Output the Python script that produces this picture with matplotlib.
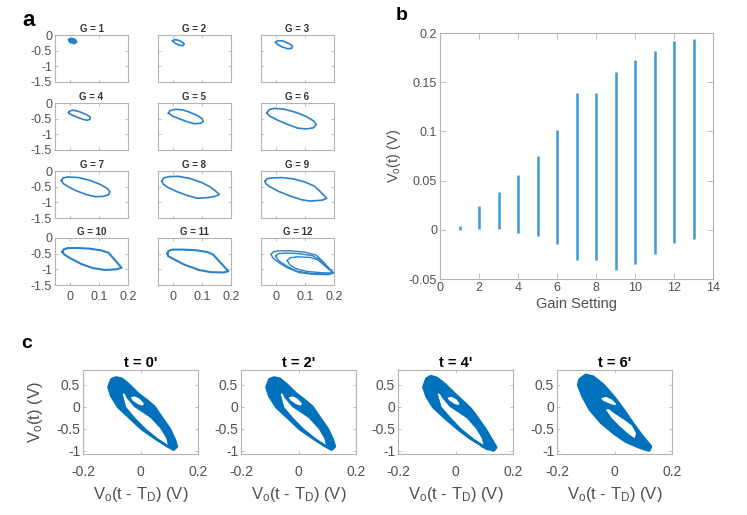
import matplotlib
matplotlib.use('Agg')
import matplotlib.pyplot as plt

plt.rcParams['font.family'] = ['Liberation Sans', 'DejaVu Sans']
plt.rcParams['mathtext.fontset'] = 'custom'
plt.rcParams['mathtext.rm'] = 'Liberation Sans'
plt.rcParams['mathtext.it'] = 'Liberation Sans:italic'
plt.rcParams['mathtext.default'] = 'regular'

# ---------------- panel a : loops for gain settings ----------------
gain_titles = ['G = 1', 'G = 2', 'G = 3', 'G = 4', 'G = 5', 'G = 6',
               'G = 7', 'G = 8', 'G = 9', 'G = 10', 'G = 11', 'G = 12']
a_xticks = [0, 0.1, 0.2]
a_xticklabels = ['0', '0.1', '0.2']
a_yticks = [0, -0.5, -1, -1.5]
a_yticklabels = ['0', '-0.5', '-1', '-1.5']

g1_x = [0.0, 0.008, 0.018, 0.022, 0.015, 0.003, 0.0]
g1_y = [-0.16, -0.13, -0.16, -0.22, -0.25, -0.22, -0.16]
g2_x = [0.0, 0.006, 0.018, 0.032, 0.04, 0.036, 0.024, 0.01, 0.0]
g2_y = [-0.19, -0.15, -0.16, -0.22, -0.29, -0.34, -0.33, -0.27, -0.19]
g3_x = [0.0, 0.008, 0.025, 0.045, 0.058, 0.056, 0.042, 0.022, 0.006, 0.0]
g3_y = [-0.23, -0.18, -0.19, -0.27, -0.35, -0.42, -0.44, -0.38, -0.3, -0.23]
g4_x = [-0.003, 0.002, 0.012, 0.028, 0.045, 0.062, 0.071, 0.07, 0.06, 0.045, 0.028, 0.012, 0.0, -0.003]
g4_y = [-0.3, -0.25, -0.23, -0.26, -0.32, -0.39, -0.46, -0.52, -0.55, -0.52, -0.46, -0.4, -0.35, -0.3]
g5_x = [-0.014, -0.008, 0.01, 0.035, 0.06, 0.085, 0.101, 0.105, 0.095, 0.075, 0.05, 0.025, 0.0, -0.014]
g5_y = [-0.32, -0.24, -0.2, -0.22, -0.3, -0.4, -0.5, -0.59, -0.65, -0.66, -0.6, -0.51, -0.42, -0.32]
g6_x = [-0.03, -0.022, -0.005, 0.03, 0.07, 0.105, 0.13, 0.139, 0.13, 0.105, 0.075, 0.04, 0.005, -0.02, -0.03]
g6_y = [-0.32, -0.21, -0.17, -0.2, -0.3, -0.43, -0.57, -0.69, -0.79, -0.83, -0.8, -0.68, -0.54, -0.42, -0.32]
g7_x = [-0.028, -0.022, -0.005, 0.03, 0.07, 0.105, 0.128, 0.138, 0.133, 0.115, 0.09, 0.06, 0.025, -0.005, -0.022, -0.028]
g7_y = [-0.3, -0.22, -0.19, -0.21, -0.3, -0.43, -0.55, -0.66, -0.76, -0.81, -0.82, -0.76, -0.64, -0.5, -0.4, -0.3]
g8_x = [-0.037, -0.03, -0.012, 0.02, 0.06, 0.1, 0.125, 0.145, 0.16, 0.145, 0.12, 0.085, 0.05, 0.015, -0.015, -0.032, -0.037]
g8_y = [-0.32, -0.22, -0.18, -0.17, -0.24, -0.37, -0.49, -0.62, -0.75, -0.81, -0.85, -0.87, -0.78, -0.66, -0.53, -0.42, -0.32]
g9_x = [-0.036, -0.03, -0.012, 0.02, 0.06, 0.1, 0.132, 0.15, 0.175, 0.16, 0.12, 0.09, 0.05, 0.01, -0.02, -0.034, -0.036]
g9_y = [-0.33, -0.25, -0.22, -0.21, -0.25, -0.35, -0.48, -0.63, -0.87, -0.93, -0.96, -0.92, -0.8, -0.65, -0.5, -0.4, -0.33]
g10_x = [-0.025, -0.02, -0.005, 0.03, 0.07, 0.11, 0.133, 0.155, 0.178, 0.16, 0.12, 0.08, 0.04, 0.005, -0.018, -0.025]
g10_y = [-0.44, -0.36, -0.32, -0.32, -0.34, -0.4, -0.47, -0.7, -0.95, -1.0, -1.02, -0.96, -0.83, -0.66, -0.53, -0.44]
g11_x = [-0.018, -0.014, 0.0, 0.035, 0.08, 0.12, 0.139, 0.165, 0.191, 0.175, 0.13, 0.09, 0.04, 0.005, -0.015, -0.018]
g11_y = [-0.5, -0.41, -0.37, -0.37, -0.39, -0.45, -0.53, -0.8, -1.06, -1.1, -1.09, -1.02, -0.85, -0.68, -0.58, -0.5]
g12a_x = [-0.015, -0.008, 0.01, 0.05, 0.1, 0.14, 0.165, 0.198, 0.18, 0.13, 0.08, 0.04, 0.01, -0.01, -0.015]
g12a_y = [-0.52, -0.44, -0.41, -0.41, -0.45, -0.55, -0.78, -1.12, -1.17, -1.16, -1.1, -0.95, -0.78, -0.63, -0.52]
g12b_x = [0.0, 0.01, 0.035, 0.08, 0.125, 0.15, 0.17, 0.2, 0.17, 0.12, 0.07, 0.035, 0.01, 0.0]
g12b_y = [-0.58, -0.5, -0.48, -0.5, -0.56, -0.68, -0.86, -1.12, -1.15, -1.13, -1.05, -0.88, -0.72, -0.58]
g12c_x = [0.04, 0.05, 0.075, 0.12, 0.145, 0.17, 0.198, 0.16, 0.11, 0.07, 0.048, 0.04]
g12c_y = [-0.72, -0.63, -0.6, -0.62, -0.7, -0.9, -1.12, -1.11, -1.07, -0.98, -0.85, -0.72]

# ---------------- panel b : output range vs gain ----------------
gain_setting = [1, 2, 3, 4, 5, 6, 7, 8, 9, 10, 11, 12, 13]
vo_max = [0.004, 0.024, 0.038, 0.056, 0.0755, 0.101, 0.139, 0.139, 0.1605, 0.173, 0.182, 0.192, 0.194]
vo_min = [0.0, 0.001, 0.001, -0.003, -0.006, -0.0146, -0.031, -0.031, -0.041, -0.0344, -0.025, -0.013, -0.009]
b_xticks = [0, 2, 4, 6, 8, 10, 12, 14]
b_yticks = [-0.05, 0, 0.05, 0.1, 0.15, 0.2]
b_yticklabels = ['-0.05', '0', '0.05', '0.1', '0.15', '0.2']

# ---------------- panel c : attractors over time ----------------
c_titles = ["t = 0'", "t = 2'", "t = 4'", "t = 6'"]
c_xticks = [-0.2, 0, 0.2]
c_xticklabels = ['-0.2', '0', '0.2']
c_yticks = [-1, -0.5, 0, 0.5]
c_yticklabels = ['-1', '-0.5', '0', '0.5']

c1_outer_x = [-0.1, -0.085, -0.065, -0.041, -0.01, 0.02, 0.047, 0.07, 0.1, 0.118, 0.125, 0.115, 0.09, 0.05, 0.006, -0.035, -0.076, -0.1, -0.11]
c1_outer_y = [0.62, 0.66, 0.63, 0.5, 0.3, 0.15, 0.0, -0.22, -0.5, -0.75, -0.9, -0.96, -0.87, -0.7, -0.5, -0.25, 0.0, 0.25, 0.45]
c1_gap_x = [-0.062, -0.05, -0.018, 0.02, 0.062, 0.095, 0.09, 0.07, 0.035, -0.022, -0.048, -0.055]
c1_gap_y = [0.3, 0.0, -0.25, -0.5, -0.72, -0.86, -0.72, -0.5, -0.25, 0.0, 0.2, 0.3]
c1_hole_x = [-0.034, -0.02, -0.004, 0.012, 0.008, -0.008, -0.028]
c1_hole_y = [0.22, 0.24, 0.19, 0.08, 0.03, 0.06, 0.15]

c3_outer_x = [-0.1, -0.085, -0.065, -0.036, -0.005, 0.025, 0.052, 0.075, 0.104, 0.125, 0.14, 0.132, 0.095, 0.05, 0.01, -0.035, -0.076, -0.1, -0.11]
c3_outer_y = [0.64, 0.69, 0.65, 0.5, 0.3, 0.12, -0.05, -0.25, -0.52, -0.75, -0.92, -0.98, -0.88, -0.7, -0.5, -0.25, 0.0, 0.25, 0.45]
c3_gap_x = [-0.062, -0.048, -0.015, 0.022, 0.064, 0.097, 0.092, 0.072, 0.038, -0.02, -0.046, -0.055]
c3_gap_y = [0.3, 0.0, -0.25, -0.5, -0.72, -0.86, -0.72, -0.5, -0.25, 0.0, 0.2, 0.3]
c3_hole_x = [-0.028, -0.014, 0.002, 0.014, 0.01, -0.004, -0.022]
c3_hole_y = [0.21, 0.23, 0.18, 0.08, 0.04, 0.07, 0.15]
c3_tip_x = [0.09, 0.12, 0.14, 0.135, 0.11, 0.09]
c3_tip_y = [-0.88, -0.85, -0.9, -0.98, -0.97, -0.9]

c4_outer_x = [-0.12, -0.1, -0.075, -0.04, 0.0, 0.034, 0.06, 0.09, 0.125, 0.12, 0.09, 0.04, 0.0, -0.046, -0.085, -0.11, -0.125]
c4_outer_y = [0.62, 0.72, 0.68, 0.5, 0.2, -0.1, -0.35, -0.62, -0.9, -0.98, -0.92, -0.78, -0.6, -0.35, -0.05, 0.25, 0.5]
c4_gap_x = [-0.03, -0.01, 0.02, 0.05, 0.07, 0.075, 0.06, 0.035, 0.0, -0.02]
c4_gap_y = [-0.06, -0.25, -0.45, -0.62, -0.71, -0.6, -0.42, -0.3, -0.15, -0.05]
c4_hole_x = [-0.046, -0.03, -0.01, 0.006, 0.002, -0.015, -0.04]
c4_hole_y = [0.2, 0.23, 0.17, 0.07, 0.04, 0.07, 0.14]

# ---------------- figure ----------------
W, H = 747, 515
fig = plt.figure(figsize=(W / 100, H / 100), dpi=100)

SPINE = '#b4b4b4'
TXT = '#505050'
LOOP = '#2b82c9'
CBLUE = '#0072BD'


def add_px_axes(left, top, width, height):
    return fig.add_axes([left / W, 1 - (top + height) / H, width / W, height / H])


def style_axes(ax, fs):
    for s in ax.spines.values():
        s.set_color(SPINE)
        s.set_linewidth(0.8)
    ax.tick_params(direction='in', length=2.5, width=0.6, color=SPINE,
                   labelcolor=TXT, labelsize=fs, top=True, right=True, pad=2)


# panel a
loops = [[(g1_x, g1_y)], [(g2_x, g2_y)], [(g3_x, g3_y)],
         [(g4_x, g4_y)], [(g5_x, g5_y)], [(g6_x, g6_y)],
         [(g7_x, g7_y)], [(g8_x, g8_y)], [(g9_x, g9_y)],
         [(g10_x, g10_y)], [(g11_x, g11_y)],
         [(g12a_x, g12a_y), (g12b_x, g12b_y), (g12c_x, g12c_y)]]
a_lefts = [55, 158, 261]
a_tops = [35, 103, 171, 238]
for i, title in enumerate(gain_titles):
    r, c = divmod(i, 3)
    ax = add_px_axes(a_lefts[c], a_tops[r], 73, 47)
    for lx, ly in loops[i]:
        lw = 2.2 if i == 0 else (1.5 if i >= 9 else 1.2)
        if i == 11:
            lw = 1.0
        ax.plot(lx, ly, color=LOOP, lw=lw, solid_joinstyle='round')
    ax.set_xlim(-0.05, 0.2)
    ax.set_ylim(-1.5, 0)
    ax.set_xticks(a_xticks)
    ax.set_xticklabels(a_xticklabels)
    ax.set_yticks(a_yticks)
    ax.set_yticklabels(a_yticklabels)
    style_axes(ax, 9)
    ax.tick_params(labelleft=(c == 0), labelbottom=(r == 3))
    ax.tick_params(axis='x', pad=4)
    ax.set_title(title, fontsize=7, fontweight='bold', color='#333333', pad=2)

# panel b
axb = add_px_axes(440, 33, 273, 246)
axb.vlines(gain_setting, vo_min, vo_max, color='#3d9ad9', lw=1.8)
axb.set_xlim(0, 14)
axb.set_ylim(-0.05, 0.2)
axb.set_xticks(b_xticks)
axb.set_yticks(b_yticks)
axb.set_yticklabels(b_yticklabels)
style_axes(axb, 9)
axb.tick_params(length=4)
axb.set_xlabel('Gain Setting', fontsize=10.5, color=TXT, labelpad=2)
axb.set_ylabel('V$_{o}$(t) (V)', fontsize=10.5, color=TXT, labelpad=4)

# panel c
c_shapes = [
    (c1_outer_x, c1_outer_y, [(c1_gap_x, c1_gap_y), (c1_hole_x, c1_hole_y)], None),
    (c1_outer_x, c1_outer_y, [(c1_gap_x, c1_gap_y), (c1_hole_x, c1_hole_y)], None),
    (c3_outer_x, c3_outer_y, [(c3_gap_x, c3_gap_y), (c3_hole_x, c3_hole_y)], (c3_tip_x, c3_tip_y)),
    (c4_outer_x, c4_outer_y, [(c4_gap_x, c4_gap_y), (c4_hole_x, c4_hole_y)], None),
]
c_lefts = [83, 241, 398, 557]
for i, title in enumerate(c_titles):
    ax = add_px_axes(c_lefts[i], 370, 115, 84)
    ox, oy, holes, tip = c_shapes[i]
    ax.fill(ox, oy, color=CBLUE, lw=2.5, ec=CBLUE, joinstyle='round')
    for hx, hy in holes:
        ax.fill(hx, hy, color='white', lw=0)
    if tip is not None:
        ax.plot(tip[0], tip[1], color=CBLUE, lw=0.9)
    ax.set_xlim(-0.2, 0.2)
    ax.set_ylim(-1.07, 0.84)
    ax.set_xticks(c_xticks)
    ax.set_xticklabels(c_xticklabels)
    ax.set_yticks(c_yticks)
    ax.set_yticklabels(c_yticklabels)
    style_axes(ax, 10)
    ax.tick_params(axis='x', pad=8)
    ax.set_title(title, fontsize=10.5, fontweight='bold', color='black', pad=2)
    ax.set_xlabel('V$_{o}$(t - T$_{D}$) (V)', fontsize=12, color=TXT, labelpad=4)
    if i == 0:
        ax.set_ylabel('V$_{o}$(t) (V)', fontsize=12, color=TXT, labelpad=8)

fig.text(29 / W, 1 - 21 / H, 'a', fontsize=16, fontweight='bold', ha='center', va='center')
fig.text(402 / W, 1 - 16 / H, 'b', fontsize=14, fontweight='bold', ha='center', va='center')
fig.text(27 / W, 1 - 343 / H, 'c', fontsize=14, fontweight='bold', ha='center', va='center')

fig.savefig('out.png', dpi=100)
